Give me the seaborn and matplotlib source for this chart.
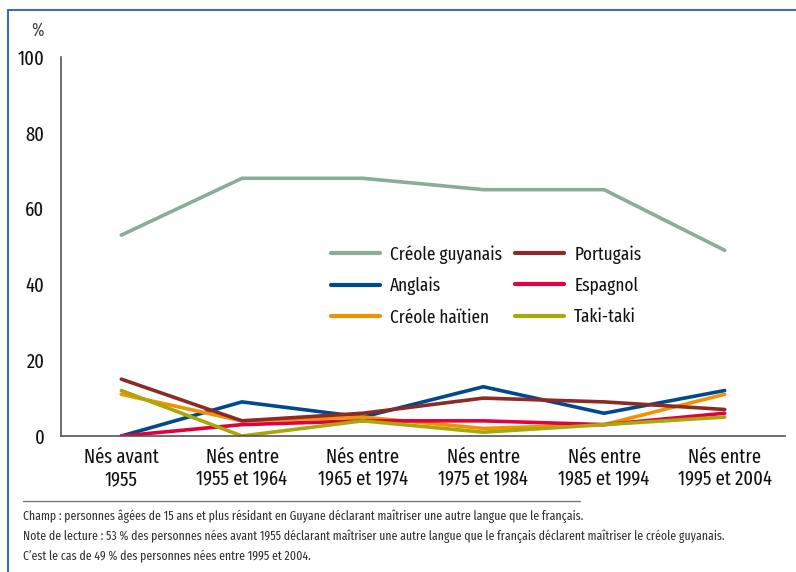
import os
import numpy as np
import pandas as pd
import matplotlib.pyplot as plt
from matplotlib import font_manager
from matplotlib.font_manager import FontProperties
from matplotlib.lines import Line2D
import seaborn as sns

cohorts = ["Nés avant\n1955", "Nés entre\n1955 et 1964", "Nés entre\n1965 et 1974",
           "Nés entre\n1975 et 1984", "Nés entre\n1985 et 1994", "Nés entre\n1995 et 2004"]

creole_guyanais = [53, 68, 68, 65, 65, 49]
anglais = [0, 9, 5, 13, 6, 12]
creole_haitien = [11, 4, 5, 2, 3, 11]
portugais = [15, 4, 6, 10, 9, 7]
espagnol = [0, 3, 4, 4, 3, 6]
taki_taki = [12, 0, 4, 1, 3, 5]

langues = ["Créole guyanais", "Anglais", "Créole haïtien", "Portugais", "Espagnol", "Taki-taki"]
couleurs = ["#88ad9a", "#00498f", "#f39200", "#8c2a26", "#e3003f", "#a8a80a"]

series = [creole_guyanais, anglais, creole_haitien, portugais, espagnol, taki_taki]
rows = []
for lang, vals in zip(langues, series):
    for i, v in enumerate(vals):
        rows.append({"pos": i, "langue": lang, "pct": v})
df = pd.DataFrame(rows)

sns.set_style("white")
plt.rcParams['font.family'] = ['DejaVu Sans']


def find_narrow_font():
    # the source uses a condensed face, pick the narrowest regular one installed
    bad = ("bold", "italic", "light", "thin", "black", "medium", "oblique", "heavy")
    ranks = [("extracondensed", 0), ("narrow", 1), ("semicondensed", 3), ("condensed", 2)]
    best = None
    for f in font_manager.fontManager.ttflist:
        base = os.path.basename(f.fname).lower().replace("-", "").replace("_", "")
        if any(b in base for b in bad):
            continue
        for key, r in ranks:
            if key in base:
                if best is None or r < best[0]:
                    best = (r, f.fname)
                break
    return best[1] if best else None


narrow_path = find_narrow_font()


def fp(size):
    if narrow_path:
        return FontProperties(fname=narrow_path, size=size)
    return FontProperties(family="DejaVu Sans", size=size * 0.8)


fig = plt.figure(figsize=(7.96, 5.72), dpi=100)
ax = fig.add_axes([61 / 796, 1 - 436 / 572, (785 - 61) / 796, (436 - 57) / 572])

sns.lineplot(data=df, x="pos", y="pct", hue="langue", hue_order=langues,
             palette=couleurs, linewidth=2.6, ax=ax, legend=False)

ax.set_xlim(-0.5, len(cohorts) - 0.5)
ax.set_ylim(0, 100)
ax.set_yticks([0, 20, 40, 60, 80, 100])
ax.set_xticks(np.arange(-0.5, len(cohorts), 1.0))
ax.set_xticklabels([])
ax.set_xticks(np.arange(len(cohorts)), minor=True)
ax.set_xticklabels(cohorts, minor=True)
ax.tick_params(axis="x", which="minor", length=0, pad=8)
ax.tick_params(axis="x", which="major", length=8, width=1.2, color="#555555")
ax.tick_params(axis="y", length=8, width=1.2, color="#555555", pad=4)
for lbl in ax.get_xticklabels(minor=True) + ax.get_yticklabels():
    lbl.set_fontproperties(fp(14.5))
    lbl.set_color("#111111")
ax.set_xlabel("")
ax.set_ylabel("")
for s in ["top", "right"]:
    ax.spines[s].set_visible(False)
for s in ["left", "bottom"]:
    ax.spines[s].set_color("#555555")
    ax.spines[s].set_linewidth(1.2)

fig.text(37 / 796, 1 - 30 / 572, "%", fontproperties=fp(13), style="italic",
         color="#444444", ha="center", va="center")

handles = [Line2D([], [], color=c, linewidth=3) for c in couleurs]
leg = fig.legend(handles, langues, ncol=2, frameon=False, prop=fp(13.5),
                 loc="upper left", bbox_to_anchor=(331 / 796, 1 - 245 / 572),
                 bbox_transform=fig.transFigure, borderpad=0, borderaxespad=0,
                 handlelength=2.6, handletextpad=0.55, columnspacing=0.7, labelspacing=0.7)
for t in leg.get_texts():
    t.set_color("#111111")

# separator and notes
fig.add_artist(Line2D([23 / 796, 580 / 796], [1 - 501 / 572] * 2, color="#777777", linewidth=1))
notes = [
    "Champ : personnes âgées de 15 ans et plus résidant en Guyane déclarant maîtriser une autre langue que le français.",
    "Note de lecture : 53 % des personnes nées avant 1955 déclarant maîtriser une autre langue que le français déclarent maîtriser le créole guyanais.",
    "C’est le cas de 49 % des personnes nées entre 1995 et 2004.",
]
for k, t in enumerate(notes):
    fig.text(23 / 796, 1 - (516 + 20 * k) / 572, t, fontproperties=fp(9.2),
             color="#333333", ha="left", va="center")

# frame
fig.add_artist(Line2D([8 / 796, 1], [1 - 10 / 572] * 2, color="#3d6fa8", linewidth=1.5))
fig.add_artist(Line2D([8 / 796] * 2, [0, 1 - 10 / 572], color="#3d6fa8", linewidth=1.5))

fig.savefig("out.png", dpi=100)
